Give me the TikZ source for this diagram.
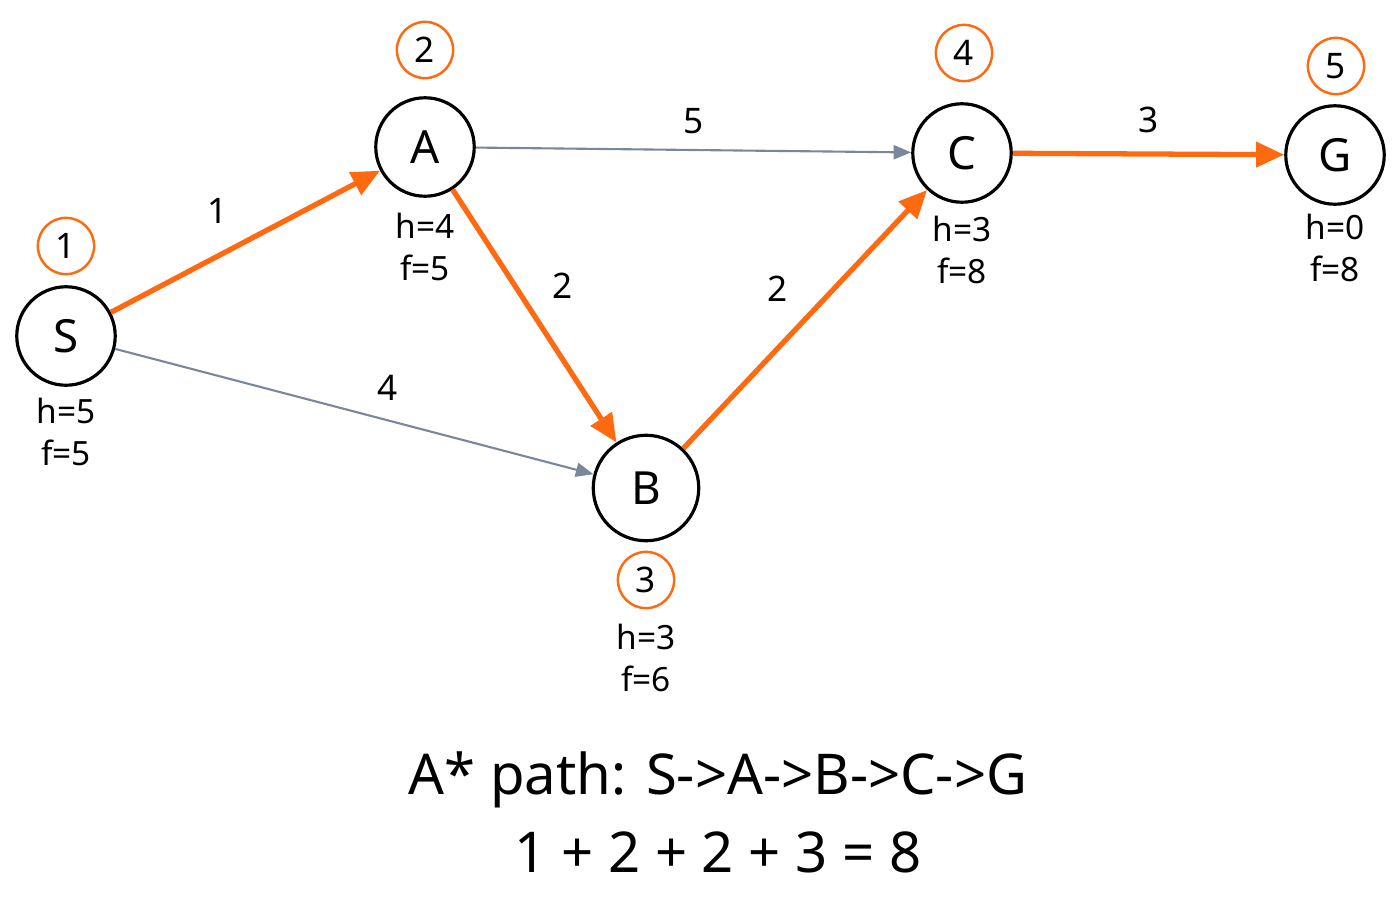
\documentclass[tikz,border=0pt]{standalone}
\usepackage{fontspec}
\setmainfont{Noto Sans}
\usetikzlibrary{arrows.meta}
\definecolor{org}{HTML}{FF6A10}
\definecolor{gry}{HTML}{7A8699}
\begin{document}
\begin{tikzpicture}[x=0.01cm,y=-0.01cm,
  nd/.style={circle,draw=black,line width=0.9pt,minimum size=28pt,inner sep=0pt,font=\fontsize{13}{14}\selectfont\bfseries},
  ord/.style={circle,draw=org,line width=0.7pt,minimum size=16pt,inner sep=0pt,font=\fontsize{10}{11}\selectfont},
  hf/.style={font=\fontsize{9.5}{12}\selectfont,align=center},
  el/.style={font=\fontsize{10}{11}\selectfont},
  pe/.style={draw=org,line width=1.5pt,-{Triangle[length=8pt,width=7pt]}},
  ge/.style={draw=gry,line width=0.6pt,-{Triangle[length=5pt,width=4pt]}}]
\useasboundingbox (0,0) rectangle (1400,900);
\node[nd] (S) at (66,336) {S};
\node[nd] (A) at (425,147) {A};
\node[nd] (C) at (962,153) {C};
\node[nd] (G) at (1335,155) {G};
\node[nd,minimum size=30pt] (B) at (646,488) {B};
\node[ord] (o1) at (66,246) {1};
\node[ord] (o2) at (425,50) {2};
\node[ord] (o4) at (964,53) {4};
\node[ord] (o5) at (1336,66) {5};
\node[ord] (o3) at (646,580) {3};
\node[hf] (hS) at (66,432) {h=5\\f=5};
\node[hf] (hA) at (425,247) {h=4\\f=5};
\node[hf] (hC) at (962,250) {h=3\\f=8};
\node[hf] (hG) at (1335,248) {h=0\\f=8};
\node[hf] (hB) at (646,658) {h=3\\f=6};
\draw[ge] (S) -- (B) node[el,pos=0.57,above=2pt] {4};
\draw[ge] (A) -- (C) node[el,midway,above=1pt] {5};
\draw[pe] (S) -- (A) node[el,midway,above left=1pt] {1};
\draw[pe] (A) -- (B) node[el,midway,above right=1pt] {2};
\draw[pe] (B) -- (C) node[el,midway,above left=1pt] {2};
\draw[pe] (C) -- (G) node[el,midway,above=2pt] {3};
\node[font=\fontsize{16}{18}\selectfont] (t1) at (718,780) {A* path: S->A->B->C->G};
\node[font=\fontsize{16}{18}\selectfont] (t2) at (718,852) {1 + 2 + 2 + 3 = 8};
\end{tikzpicture}
\end{document}
